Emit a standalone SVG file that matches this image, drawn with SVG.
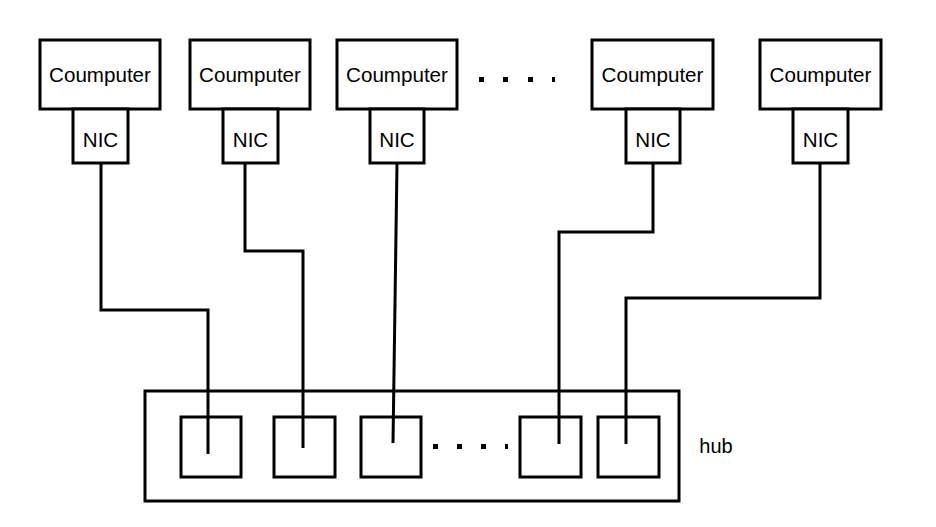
<svg xmlns="http://www.w3.org/2000/svg" width="936" height="527" viewBox="0 0 936 527">
<style>
.box{fill:#fff;stroke:#000;stroke-width:3}
.port{fill:none;stroke:#000;stroke-width:3}
.wire{fill:none;stroke:#000;stroke-width:3}
.t{font-family:"Liberation Sans",Arial,sans-serif;font-size:20.6px;fill:#000;text-anchor:middle}
.dot{fill:#000}
</style>
<rect width="936" height="527" fill="#fff"/>
<g id="connectors">
<polyline class="wire" points="101,163 101,310 208,310 208,454"/>
<polyline class="wire" points="245,163 245,251 303,251 303,448"/>
<polyline class="wire" points="397,163 393,443"/>
<polyline class="wire" points="653,163 653,232 559,232 559,444"/>
<polyline class="wire" points="820,163 820,298 626,298 626,444"/>
</g>
<g id="pc1"><rect class="box" x="40" y="40" width="120" height="69"/><text class="t" x="100" y="82">Coumputer</text></g>
<g id="nic1"><rect class="box" x="73" y="109" width="55" height="54"/><text class="t" x="100.5" y="147">NIC</text></g>
<g id="pc2"><rect class="box" x="190" y="40" width="120" height="69"/><text class="t" x="250" y="82">Coumputer</text></g>
<g id="nic2"><rect class="box" x="223" y="109" width="55" height="54"/><text class="t" x="250.5" y="147">NIC</text></g>
<g id="pc3"><rect class="box" x="337" y="40" width="120" height="69"/><text class="t" x="397" y="82">Coumputer</text></g>
<g id="nic3"><rect class="box" x="370" y="109" width="54" height="54"/><text class="t" x="397" y="147">NIC</text></g>
<g id="pc4"><rect class="box" x="592" y="40" width="121" height="69"/><text class="t" x="652.5" y="82">Coumputer</text></g>
<g id="nic4"><rect class="box" x="626" y="109" width="54" height="54"/><text class="t" x="653" y="147">NIC</text></g>
<g id="pc5"><rect class="box" x="760" y="40" width="121" height="69"/><text class="t" x="820.5" y="82">Coumputer</text></g>
<g id="nic5"><rect class="box" x="793" y="109" width="55" height="54"/><text class="t" x="820.5" y="147">NIC</text></g>
<g id="dots-top">
<rect class="dot" x="479" y="77" width="5" height="5"/>
<rect class="dot" x="503" y="77" width="5" height="5"/>
<rect class="dot" x="528" y="77" width="5" height="5"/>
<rect class="dot" x="552" y="77" width="3" height="5"/>
</g>
<g id="hub">
<rect class="port" x="145" y="391" width="534" height="110"/>
<text class="t" x="716" y="453" style="font-size:20px">hub</text>
</g>
<g id="port1"><rect class="port" x="181" y="417" width="60" height="60"/></g>
<g id="port2"><rect class="port" x="274" y="417" width="61" height="60"/></g>
<g id="port3"><rect class="port" x="361" y="417" width="60" height="60"/></g>
<g id="port4"><rect class="port" x="520" y="417" width="61" height="60"/></g>
<g id="port5"><rect class="port" x="598" y="417" width="61" height="60"/></g>
<g id="dots-hub">
<rect class="dot" x="433" y="444" width="5" height="5"/>
<rect class="dot" x="457" y="444" width="5" height="5"/>
<rect class="dot" x="481" y="444" width="5" height="5"/>
<rect class="dot" x="505" y="444" width="3" height="5"/>
</g>
</svg>
